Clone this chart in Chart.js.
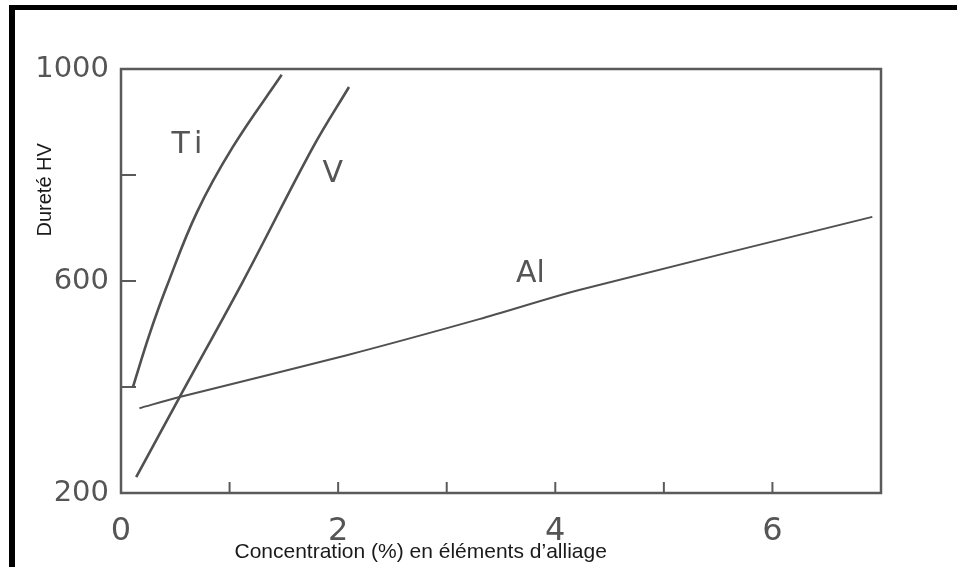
<!DOCTYPE html>
<html><head><meta charset="utf-8">
<script src="https://cdn.jsdelivr.net/npm/chart.js@4/dist/chart.umd.min.js"></script>
<style>html,body{margin:0;padding:0;background:#fff;overflow:hidden}canvas{display:block}</style>
</head><body>
<canvas id="c" width="957" height="567"></canvas>
<script>
// ---- data ----
const tiX = [0.11, 0.26, 0.42, 0.70, 1.03, 1.48];
const tiY = [400, 498, 589, 730, 853, 989];
const vX  = [0.14, 0.54, 1.12, 1.77, 2.10];
const vY  = [230, 381, 598, 853, 966];
const alX = [0.17, 0.54, 2.08, 3.30, 4.22, 6.92];
const alY = [360, 381, 460, 528, 583, 721];
const xTickLabels = [0, 2, 4, 6];
const yTickLabels = [200, 600, 1000];
const curveNames = ['Ti', 'V', 'Al'];
const curveLabelX = [0.63, 1.95, 3.77];
const curveLabelY = [857, 802, 613];
const xTitle = 'Concentration (%) en éléments d’alliage';
const yTitle = 'Dureté HV';

const pts = (xs, ys) => xs.map((x, i) => ({x: x, y: ys[i]}));
const INK = '#505050';

const decor = {
  id: 'decor',
  beforeDatasetsDraw(chart) {
    const ctx = chart.ctx, a = chart.chartArea;
    const xs = chart.scales.x, ys = chart.scales.y;
    ctx.save();
    // outer black frame (left + top)
    ctx.fillStyle = '#000';
    ctx.fillRect(9, 5, 6, 562);
    ctx.fillRect(9, 5, 948, 5);
    // plot box
    ctx.strokeStyle = '#5a5a5a';
    ctx.lineWidth = 2.5;
    ctx.strokeRect(a.left, a.top, a.right - a.left, a.bottom - a.top);
    // inward ticks
    ctx.lineWidth = 2;
    for (let v = 1; v <= 6; v++) {
      const px = xs.getPixelForValue(v);
      ctx.beginPath(); ctx.moveTo(px, a.bottom); ctx.lineTo(px, a.bottom - 11); ctx.stroke();
    }
    for (let v = 400; v <= 800; v += 200) {
      const py = ys.getPixelForValue(v);
      ctx.beginPath(); ctx.moveTo(a.left, py); ctx.lineTo(a.left + 15, py); ctx.stroke();
    }
    ctx.restore();
  },
  afterDraw(chart) {
    const ctx = chart.ctx, a = chart.chartArea;
    const xs = chart.scales.x, ys = chart.scales.y;
    ctx.save();
    // curve labels
    ctx.fillStyle = '#555';
    ctx.font = '30px "DejaVu Sans"';
    ctx.textAlign = 'center';
    ctx.textBaseline = 'middle';
    curveNames.forEach((t, i) => {
      ctx.letterSpacing = t === 'Ti' ? '5px' : '0px';
      ctx.fillText(t, xs.getPixelForValue(curveLabelX[i]), ys.getPixelForValue(curveLabelY[i]));
    });
    ctx.letterSpacing = '0px';
    // axis titles
    ctx.fillStyle = '#1a1a1a';
    ctx.font = '21px "Liberation Sans", Arial, sans-serif';
    ctx.fillText(xTitle, xs.getPixelForValue(2.76), a.bottom + 59);
    ctx.translate(45, ys.getPixelForValue(772));
    ctx.rotate(-Math.PI / 2);
    ctx.font = '20px "Liberation Sans", Arial, sans-serif';
    ctx.fillText(yTitle, 0, 0);
    ctx.restore();
  }
};

new Chart(document.getElementById('c'), {
  type: 'line',
  data: {
    datasets: [
      {label: 'Ti', data: pts(tiX, tiY), borderColor: INK, borderWidth: 2.6, tension: 0.4},
      {label: 'V', data: pts(vX, vY), borderColor: INK, borderWidth: 2.6, tension: 0.35},
      {label: 'Al', data: pts(alX, alY), borderColor: INK, borderWidth: 2, tension: 0.3}
    ]
  },
  options: {
    responsive: false,
    devicePixelRatio: 1,
    animation: false,
    layout: {padding: {top: 69, right: 76, left: 0, bottom: 0}},
    elements: {point: {radius: 0}},
    plugins: {legend: {display: false}, tooltip: {enabled: false}},
    scales: {
      x: {
        type: 'linear', min: 0, max: 7,
        grid: {display: false}, border: {display: false},
        ticks: {
          stepSize: 1, autoSkip: false, maxRotation: 0, padding: 11,
          color: '#555', font: {family: 'DejaVu Sans', size: 32},
          callback: v => xTickLabels.includes(v) ? String(v) : ''
        },
        afterFit: s => { s.height = 74; }
      },
      y: {
        type: 'linear', min: 200, max: 1000,
        grid: {display: false}, border: {display: false},
        ticks: {
          stepSize: 200, padding: 4,
          color: '#555', font: {family: 'DejaVu Sans', size: 29},
          callback: v => yTickLabels.includes(v) ? String(v) : ''
        },
        afterFit: s => { s.width = 121; }
      }
    }
  },
  plugins: [decor]
});
</script>
</body></html>
